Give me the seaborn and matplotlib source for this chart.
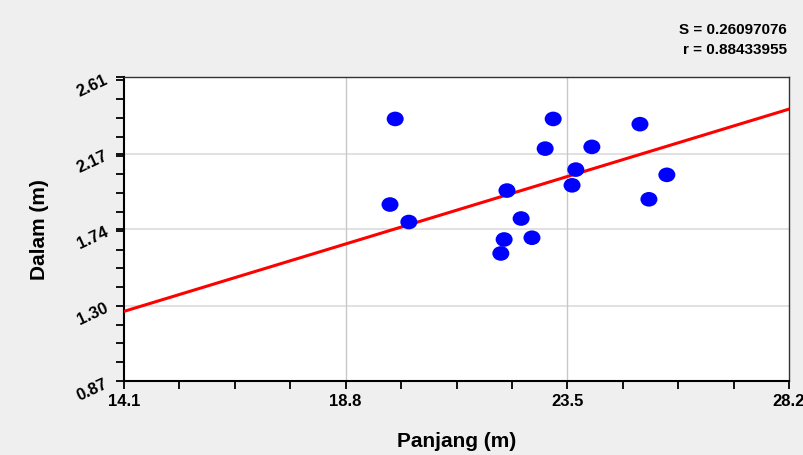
import numpy as np
import pandas as pd
import seaborn as sns
import matplotlib
matplotlib.use("Agg")
import matplotlib.pyplot as plt
from matplotlib.ticker import FixedLocator, AutoMinorLocator
from matplotlib.path import Path

# Data
panjang = [19.85, 19.74, 20.14, 22.22, 22.16, 22.09, 22.52, 22.75,
           23.03, 23.20, 23.68, 23.60, 24.02, 25.04, 25.23, 25.61]
dalam = [2.37, 1.88, 1.78, 1.96, 1.68, 1.60, 1.80, 1.69,
         2.20, 2.37, 2.08, 1.99, 2.21, 2.34, 1.91, 2.05]
fit_intercept = 0.111
fit_slope = 0.0821
x_ticks = [14.1, 18.8, 23.5, 28.2]
y_ticks = [0.87, 1.30, 1.74, 2.17, 2.61]
x_ticklabels = ["14.1", "18.8", "23.5", "28.2"]
y_ticklabels = ["0.87", "1.30", "1.74", "2.17", "2.61"]
stat_text = ["S = 0.26097076", "r = 0.88433955"]

sns.set_style("white")
font = ["Liberation Sans Narrow", "Liberation Sans", "DejaVu Sans"]
plt.rcParams["font.family"] = font
plt.rcParams["text.color"] = "black"
plt.rcParams["axes.labelcolor"] = "black"
plt.rcParams["xtick.color"] = "black"
plt.rcParams["ytick.color"] = "black"

fig = plt.figure(figsize=(8.04, 4.56), dpi=100, facecolor="#efefef")
ax = fig.add_axes([124/804, 1-382/456, (789-124)/804, (382-78)/456])
ax.set_facecolor("white")

df = pd.DataFrame({"Panjang": panjang, "Dalam": dalam})
fit_x = np.array([x_ticks[0], x_ticks[-1]])
fit_df = pd.DataFrame({"x": fit_x, "y": fit_intercept + fit_slope * fit_x})

sns.lineplot(data=fit_df, x="x", y="y", ax=ax, color="#ff0000", linewidth=2.2, zorder=3)

circ = Path.unit_circle()
ell = Path(circ.vertices * np.array([1.0, 0.86]), circ.codes)
sns.scatterplot(data=df, x="Panjang", y="Dalam", ax=ax, color="#0000ff",
                marker=ell, s=150, edgecolor="none", linewidth=0, zorder=4)

ax.set_xlim(x_ticks[0], x_ticks[-1])
ax.set_ylim(y_ticks[0], y_ticks[-1])
ax.xaxis.set_major_locator(FixedLocator(x_ticks))
ax.yaxis.set_major_locator(FixedLocator(y_ticks))
ax.xaxis.set_minor_locator(AutoMinorLocator(4))
ax.yaxis.set_minor_locator(AutoMinorLocator(4))
ax.set_xticklabels(x_ticklabels, fontsize=12, fontweight="bold", color="black")
ax.set_yticklabels(y_ticklabels, fontsize=12, fontweight="bold", rotation=25,
                   color="black")
ax.tick_params(axis="both", which="both", direction="out", length=6, width=1.3,
               color="black", left=True, bottom=True)
ax.tick_params(axis="x", which="major", pad=3)
ax.tick_params(axis="y", which="major", pad=4)

for v in y_ticks[1:-1]:
    ax.axhline(v, color="#dcdcdc", linewidth=1.2, zorder=1)
for v in x_ticks[1:-1]:
    ax.axvline(v, color="#c8c8c8", linewidth=1.0, zorder=1)

for side in ["left", "bottom"]:
    ax.spines[side].set_color("black")
    ax.spines[side].set_linewidth(1.5)
for side in ["top", "right"]:
    ax.spines[side].set_color("#333333")
    ax.spines[side].set_linewidth(1.0)

ax.set_xlabel("Panjang (m)", fontsize=15, fontweight="bold", labelpad=16, color="black")
ax.set_ylabel("Dalam (m)", fontsize=15, fontweight="bold", labelpad=18, color="black")

fig.text(787/804, 1-30/456, stat_text[0], ha="right", va="center", color="black",
         fontsize=11, fontweight="bold", family=["Liberation Sans", "DejaVu Sans"])
fig.text(787/804, 1-50/456, stat_text[1], ha="right", va="center", color="black",
         fontsize=11, fontweight="bold", family=["Liberation Sans", "DejaVu Sans"])

fig.savefig("out.png", dpi=100, facecolor=fig.get_facecolor())
